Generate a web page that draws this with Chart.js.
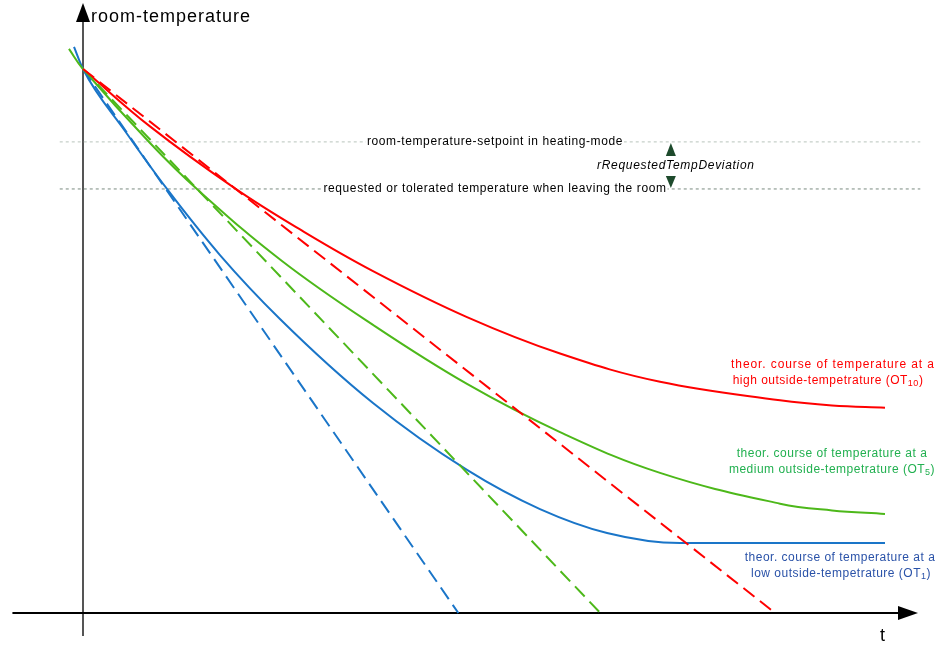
<!DOCTYPE html>
<html>
<head>
<meta charset="utf-8">
<script src="https://cdn.jsdelivr.net/npm/chart.js@4.4.1/dist/chart.umd.min.js"></script>
<style>
  html, body { margin: 0; padding: 0; background: #fff; }
  canvas { display: block; }
</style>
</head>
<body>
<canvas id="chart" width="949" height="654"></canvas>
<script>
// ===== Data (t in arbitrary time units, T in arbitrary temperature units) =====
const tHigh = [0, 0.835, 1.895, 2.706, 3.616, 4.788, 5.948, 7.195, 8.691, 9.339, 10];
const tempHigh = [20, 17.89, 15.61, 14.10, 12.57, 10.88, 9.54, 8.50, 7.82, 7.63, 7.55];

const tMedium = [-0.175, 0, 0.835, 1.434, 2.481, 3.616, 4.788, 5.948, 7.195, 8.691, 9.339, 10];
const tempMedium = [20.74, 20, 17.28, 15.55, 12.94, 10.59, 8.42, 6.65, 5.15, 4.02, 3.77, 3.64];

const tLow = [-0.112, 0, 0.524, 1.047, 1.708, 2.456, 3.616, 4.788, 5.698, 6.534, 7.444, 10];
const tempLow = [20.81, 20, 17.72, 15.59, 13.16, 10.81, 7.72, 5.26, 3.82, 2.94, 2.57, 2.57];

// straight cooling lines (dashed): start temp and the time where they reach 0
const startTemp = 20;
const tZeroHigh = 8.63;
const tZeroMedium = 6.45;
const tZeroLow = 4.68;

// horizontal reference levels
const setpointTemp = 17.32;
const leaveTemp = 15.59;
const refLineT = [-0.29, 10.44];

const colHigh = "#ff0000";
const colMedium = "#4db81a";
const colLow = "#1a75c8";

function pts(xs, ys) {
  return xs.map((x, i) => ({ x: x, y: ys[i] }));
}

// ===== Drawing helpers =====
function triangle(ctx, x1, y1, x2, y2, x3, y3, color) {
  ctx.beginPath();
  ctx.moveTo(x1, y1);
  ctx.lineTo(x2, y2);
  ctx.lineTo(x3, y3);
  ctx.closePath();
  ctx.fillStyle = color;
  ctx.fill();
}

const FONT = "'Liberation Sans', Arial, sans-serif";

function labelWithSub(ctx, cx, y, main, sub, color) {
  ctx.font = "12px " + FONT;
  const w1 = ctx.measureText(main).width;
  ctx.font = "9px " + FONT;
  const w2 = ctx.measureText(sub).width;
  ctx.font = "12px " + FONT;
  const w3 = ctx.measureText(")").width;
  let x = cx - (w1 + w2 + w3) / 2;
  ctx.fillStyle = color;
  ctx.textAlign = "left";
  ctx.fillText(main, x, y);
  x += w1;
  ctx.font = "9px " + FONT;
  ctx.fillText(sub, x, y + 3);
  x += w2;
  ctx.font = "12px " + FONT;
  ctx.fillText(")", x, y);
}

// axes with arrow heads + all annotation texts
const axesPlugin = {
  id: "axes",
  beforeDatasetsDraw(chart) {
    const ctx = chart.ctx;
    const xs = chart.scales.x, ys = chart.scales.y;
    const x0 = xs.getPixelForValue(0);
    const y0 = ys.getPixelForValue(0);
    ctx.save();
    // y axis
    ctx.strokeStyle = "#555";
    ctx.lineWidth = 2;
    ctx.beginPath();
    ctx.moveTo(x0, ys.getPixelForValue(-0.85));
    ctx.lineTo(x0, 18);
    ctx.stroke();
    triangle(ctx, x0, 3, x0 - 7, 22, x0 + 7, 22, "#000");
    // x axis
    ctx.strokeStyle = "#000";
    ctx.beginPath();
    ctx.moveTo(xs.getPixelForValue(-0.88), y0);
    ctx.lineTo(900, y0);
    ctx.stroke();
    triangle(ctx, 918, y0, 898, y0 - 7, 898, y0 + 7, "#000");
    ctx.restore();
  },
  afterDatasetsDraw(chart) {
    const ctx = chart.ctx;
    const xs = chart.scales.x, ys = chart.scales.y;
    ctx.save();
    ctx.textBaseline = "middle";

    // axis titles
    ctx.fillStyle = "#000";
    ctx.font = "18px " + FONT;
    ctx.letterSpacing = "1px";
    ctx.textAlign = "left";
    ctx.fillText("room-temperature", 91, 17);
    ctx.letterSpacing = "0px";
    ctx.fillText("t", 880, 636);

    // reference level labels with white background
    ctx.font = "12px " + FONT;
    ctx.letterSpacing = "0.6px";
    const cx = 495;
    const ySet = ys.getPixelForValue(setpointTemp);
    const yLeave = ys.getPixelForValue(leaveTemp);
    const lab1 = "room-temperature-setpoint in heating-mode";
    const lab2 = "requested or tolerated temperature when leaving the room";
    ctx.textAlign = "center";
    [[lab1, ySet], [lab2, yLeave]].forEach(([s, y]) => {
      const w = ctx.measureText(s).width;
      ctx.fillStyle = "#fff";
      ctx.fillRect(cx - w / 2 - 1, y - 7, w + 2, 14);
      ctx.fillStyle = "#000";
      ctx.fillText(s, cx, y);
    });

    // deviation arrows
    const ax = xs.getPixelForValue(7.33);
    triangle(ctx, ax, ySet + 1, ax - 5, ySet + 14, ax + 5, ySet + 14, "#1d4a2c");
    triangle(ctx, ax, yLeave - 1, ax - 5, yLeave - 13, ax + 5, yLeave - 13, "#1d4a2c");
    ctx.font = "italic 12px " + FONT;
    ctx.letterSpacing = "0.7px";
    ctx.fillStyle = "#000";
    ctx.textAlign = "left";
    ctx.fillText("rRequestedTempDeviation", 597, (ySet + yLeave) / 2);

    // curve labels
    ctx.font = "12px " + FONT;
    ctx.textAlign = "center";
    ctx.letterSpacing = "0.9px";
    ctx.fillStyle = colHigh;
    ctx.fillText("theor. course of temperature at a", 833, 365);
    ctx.letterSpacing = "0.5px";
    labelWithSub(ctx, 828, 381, "high outside-tempetrature (OT", "10", colHigh);

    ctx.font = "12px " + FONT;
    ctx.textAlign = "center";
    ctx.fillStyle = "#22b050";
    ctx.fillText("theor. course of temperature at a", 832, 454);
    labelWithSub(ctx, 832, 470, "medium outside-tempetrature (OT", "5", "#22b050");

    ctx.font = "12px " + FONT;
    ctx.textAlign = "center";
    ctx.fillStyle = "#2a52a8";
    ctx.fillText("theor. course of temperature at a", 840, 558);
    labelWithSub(ctx, 841, 574, "low outside-tempetrature (OT", "1", "#2a52a8");

    ctx.restore();
  }
};

// ===== Chart =====
const ctx = document.getElementById("chart").getContext("2d");
const pxX = 80.2, pxY = 27.2;
const xMin = -83 / pxX;
const yMax = 613 / pxY;

new Chart(ctx, {
  type: "line",
  data: {
    datasets: [
      {
        label: "setpoint",
        data: pts(refLineT, [setpointTemp, setpointTemp]),
        borderColor: "#b8c4bc",
        borderWidth: 1,
        borderDash: [3, 3],
        order: 10
      },
      {
        label: "leave",
        data: pts(refLineT, [leaveTemp, leaveTemp]),
        borderColor: "#7a8a80",
        borderWidth: 1,
        borderDash: [3, 3],
        order: 10
      },
      {
        label: "OT10 linear",
        data: pts([0, tZeroHigh], [startTemp, 0]),
        borderColor: colHigh,
        borderWidth: 2,
        borderDash: [14, 7]
      },
      {
        label: "OT5 linear",
        data: pts([0, tZeroMedium], [startTemp, 0]),
        borderColor: colMedium,
        borderWidth: 2,
        borderDash: [14, 7]
      },
      {
        label: "OT1 linear",
        data: pts([0, tZeroLow], [startTemp, 0]),
        borderColor: colLow,
        borderWidth: 2,
        borderDash: [14, 7]
      },
      {
        label: "OT10",
        data: pts(tHigh, tempHigh),
        borderColor: colHigh,
        borderWidth: 2,
        tension: 0.4
      },
      {
        label: "OT5",
        data: pts(tMedium, tempMedium),
        borderColor: colMedium,
        borderWidth: 2,
        tension: 0.4
      },
      {
        label: "OT1",
        data: pts(tLow, tempLow),
        borderColor: colLow,
        borderWidth: 2,
        cubicInterpolationMode: "monotone"
      }
    ]
  },
  options: {
    responsive: false,
    animation: false,
    layout: { padding: 0 },
    elements: { point: { radius: 0 } },
    plugins: { legend: { display: false }, tooltip: { enabled: false } },
    scales: {
      x: { type: "linear", display: false, min: xMin, max: xMin + 949 / pxX },
      y: { type: "linear", display: false, min: yMax - 654 / pxY, max: yMax }
    }
  },
  plugins: [axesPlugin]
});
</script>
</body>
</html>
